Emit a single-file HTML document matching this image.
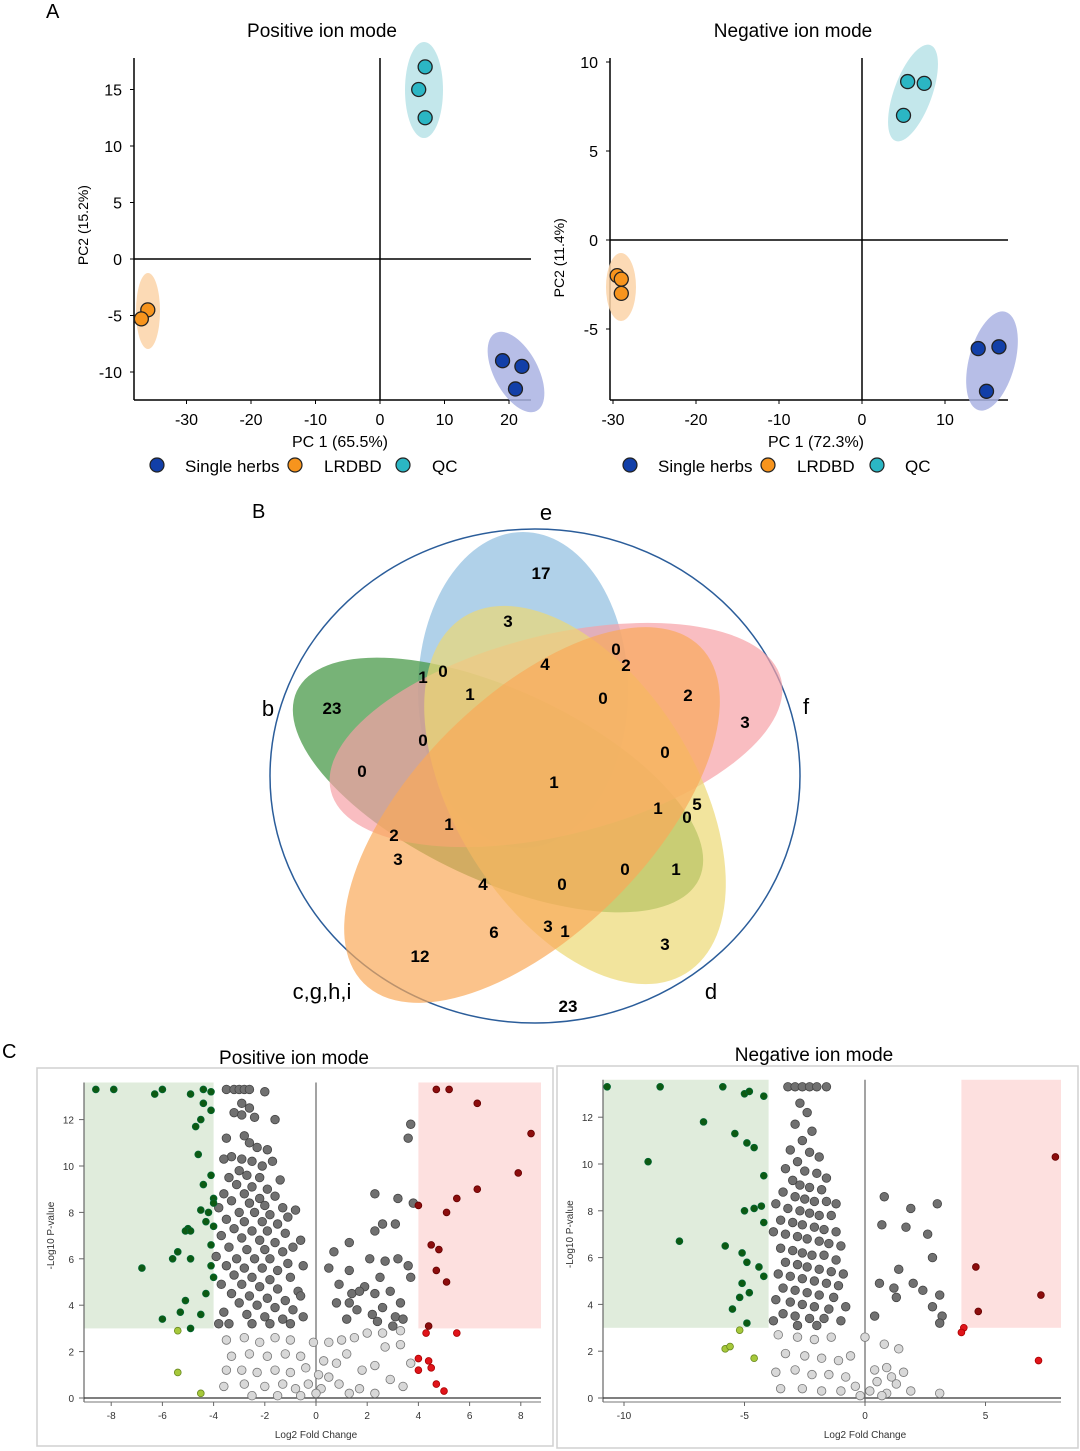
<!DOCTYPE html>
<html><head><meta charset="utf-8"><style>
body{margin:0;background:#fff;}
svg{display:block;font-family:"Liberation Sans",Arial,sans-serif;}
</style></head><body>
<svg id="fig" width="1080" height="1451" viewBox="0 0 1080 1451" xmlns="http://www.w3.org/2000/svg">
<text x="46" y="18" font-size="20">A</text>
<g id="pcaL"></g>
<g id="pcaR"></g>
<text x="252" y="518" font-size="20">B</text>
<g>
<ellipse cx="535" cy="776" rx="265" ry="247" fill="none" stroke="#2b5d9a" stroke-width="1.5"/>
<ellipse cx="523" cy="690" rx="105" ry="158" fill="#8fbde0" fill-opacity="0.7"/>
<ellipse cx="498" cy="785" rx="222" ry="95" transform="rotate(25 498 785)" fill="#4a9a4a" fill-opacity="0.75"/>
<ellipse cx="556" cy="735" rx="232" ry="100" transform="rotate(-14 556 735)" fill="#f7a1a6" fill-opacity="0.7"/>
<ellipse cx="575" cy="795" rx="210" ry="120" transform="rotate(58 575 795)" fill="#ecd873" fill-opacity="0.7"/>
<ellipse cx="532" cy="815" rx="238" ry="118" transform="rotate(-45 532 815)" fill="#f9a95a" fill-opacity="0.7"/>
</g>
<g id="vennText" font-size="17" font-weight="bold" text-anchor="middle"></g>
<g font-size="22" text-anchor="middle">
<text x="546" y="520">e</text>
<text x="268" y="716">b</text>
<text x="806" y="714">f</text>
<text x="711" y="999">d</text>
<text x="322" y="999">c,g,h,i</text>
</g>
<text x="2" y="1058" font-size="20">C</text>
<g id="volL"></g>
<g id="volR"></g>
</svg>
<script>
const pcaGroups = ["Single herbs","LRDBD","QC"];
const pcaColors = ["#123fa8","#f7941d","#2bb6c4"];
const pcaPosSingle = [[19,-9],[22,-9.5],[21,-11.5]];
const pcaPosLRDBD = [[-36,-4.5],[-37,-5.3]];
const pcaPosQC = [[7,17],[6,15],[7,12.5]];
const pcaNegSingle = [[14,-6.1],[16.5,-6],[15,-8.5]];
const pcaNegLRDBD = [[-29.5,-2],[-29,-2.2],[-29,-3]];
const pcaNegQC = [[5.5,8.9],[7.5,8.8],[5,7]];
const pcaPosXTicks = [-30,-20,-10,0,10,20];
const pcaPosYTicks = [15,10,5,0,-5,-10];
const pcaNegXTicks = [-30,-20,-10,0,10];
const pcaNegYTicks = [10,5,0,-5];

const NS="http://www.w3.org/2000/svg";
function mk(tag,attrs,parent,text){const e=document.createElementNS(NS,tag);for(const k in attrs)e.setAttribute(k,attrs[k]);if(text!==undefined)e.textContent=text;parent.appendChild(e);return e;}

function drawPCA(g,cfg){
  const sx=v=>cfg.x0+(v-0)*cfg.kx, sy=v=>cfg.y0-(v)*cfg.ky;
  mk("text",{x:cfg.titleX,y:37,"font-size":19,"text-anchor":"middle"},g,cfg.title);
  const ax=mk("line",{x1:cfg.left,y1:58,x2:cfg.left,y2:400,stroke:"#000","stroke-width":1.5},g);
  
  const bx=mk("line",{x1:cfg.left,y1:400,x2:cfg.right,y2:400,stroke:"#000","stroke-width":1.5},g);
  
  const zv=mk("line",{x1:sx(0),y1:58,x2:sx(0),y2:400,stroke:"#000","stroke-width":1.5},g);
  
  const zh=mk("line",{x1:cfg.left,y1:sy(0),x2:cfg.right,y2:sy(0),stroke:"#000","stroke-width":1.5},g);
  
  cfg.xt.forEach(t=>{mk("line",{x1:sx(t),y1:400,x2:sx(t),y2:404,stroke:"#000"},g);
    const tx=mk("text",{x:sx(t),y:425,"font-size":16,"text-anchor":"middle"},g,t);});
  cfg.yt.forEach(t=>{mk("line",{x1:cfg.left-4,y1:sy(t),x2:cfg.left,y2:sy(t),stroke:"#000"},g);
    const ty=mk("text",{x:cfg.left-12,y:sy(t)+6,"font-size":16,"text-anchor":"end"},g,t);});
  const xl=mk("text",{x:cfg.xlabX,y:447,"font-size":16,"text-anchor":"middle"},g,cfg.xlab);
  const yl=mk("text",{x:0,y:0,"font-size":14,"text-anchor":"middle",transform:`translate(${cfg.left-46},${sy(cfg.ylabV)}) rotate(-90)`},g,cfg.ylab);
  cfg.ells.forEach((e,i)=>{const el=mk("ellipse",{cx:e[0],cy:e[1],rx:e[2],ry:e[3],transform:`rotate(${e[4]} ${e[0]} ${e[1]})`,fill:["#aab3e3","#fbd3a8","#b9e3e7"][i],"fill-opacity":0.85},g);});
  cfg.sets.forEach((pts,i)=>pts.forEach(p=>{const c=mk("circle",{cx:sx(p[0]),cy:sy(p[1]),r:7,fill:pcaColors[i],stroke:"#222","stroke-width":1.3},g);
    }));
  pcaGroups.forEach((n,i)=>{const d=mk("circle",{cx:cfg.leg[i][0],cy:465,r:7,fill:pcaColors[i],stroke:"#222","stroke-width":1.2},g);
    const t=mk("text",{x:cfg.leg[i][1],y:472,"font-size":17},g,n);});
}
drawPCA(document.getElementById("pcaL"),{x0:380,kx:6.45,y0:259,ky:11.3,left:134,right:531,title:"Positive ion mode",titleX:322,
 xt:pcaPosXTicks,yt:pcaPosYTicks,xlab:"PC 1 (65.5%)",xlabX:340,ylab:"PC2 (15.2%)",ylabV:3,
 ells:[[516,372,22,44,-28],[148,311,12,38,0],[424,90,19,48,0]],sets:[pcaPosSingle,pcaPosLRDBD,pcaPosQC],leg:[[157,185],[295,324],[403,432]]});
drawPCA(document.getElementById("pcaR"),{x0:862,kx:8.3,y0:240,ky:17.8,left:610,right:1008,title:"Negative ion mode",titleX:793,
 xt:pcaNegXTicks,yt:pcaNegYTicks,xlab:"PC 1 (72.3%)",xlabX:816,ylab:"PC2 (11.4%)",ylabV:-1,
 ells:[[992,361,23,51,15],[621,287,15,34,0],[913,93,19,51,20]],sets:[pcaNegSingle,pcaNegLRDBD,pcaNegQC],leg:[[630,658],[768,797],[877,905]]});

const vennCounts=["17","3","0","2","4","1","0","1","2","23","1","0","3","0","0","0","1","0","5","2","1","3","0","1","4","0","6","3","1","12","3","23"];
const vennPos=[[541,579],[508,627],[616,655],[626,671],[545,670],[423,683],[443,677],[470,700],[688,701],[332,714],[554,788],[603,704],[745,728],[665,758],[423,746],[362,777],[658,814],[687,823],[697,810],[394,841],[449,830],[398,865],[625,875],[676,875],[483,890],[562,890],[494,938],[548,932],[565,937],[420,962],[665,950],[568,1012]];
const vt=document.getElementById("vennText");
vennCounts.forEach((c,i)=>{const t=mk("text",{x:vennPos[i][0],y:vennPos[i][1]},vt,c);});

const volPosGray=[[-3.5,13.3],[-3.2,13.3],[-3,13.3],[-2.8,13.3],[-2.6,13.3],[-2,13.2],[-3.2,12.3],[-2.9,12.2],[-2.4,12.1],[-2.9,12.7],[-2.6,12.5],[-1.6,12],[-3.5,11.2],[-2.8,11.3],[-2.6,11],[-2.3,10.8],[-1.9,10.7],[-3.3,10.4],[-3.6,10.3],[-2.9,10.3],[-2.5,10.2],[-1.7,10.2],[-2.1,10],[-3,9.8],[-3.4,9.5],[-2.7,9.6],[-2.2,9.5],[-1.4,9.4],[-3.1,9.2],[-2.5,9.1],[-1.9,9],[-3.6,8.8],[-2.8,8.8],[-2.2,8.6],[-1.6,8.7],[-3.3,8.5],[-2.6,8.4],[-2,8.3],[-1.3,8.2],[-0.8,8.1],[-3.8,8.2],[-3,8],[-2.4,8],[-1.8,7.9],[-1.1,7.8],[-3.5,7.7],[-2.8,7.6],[-2.1,7.6],[-1.5,7.5],[-3.2,7.3],[-2.5,7.2],[-1.9,7.2],[-1.2,7.1],[-0.6,6.8],[-3.7,7],[-2.9,6.9],[-2.2,6.8],[-1.6,6.7],[-3.4,6.5],[-2.7,6.4],[-2,6.4],[-1.3,6.3],[-0.9,6.5],[-3.9,6.1],[-3.1,6],[-2.4,6],[-1.8,6],[-1.1,5.8],[-0.5,5.7],[-3.5,5.7],[-2.8,5.6],[-2.1,5.6],[-1.5,5.5],[-3.2,5.3],[-2.5,5.2],[-1.8,5.1],[-1,5.2],[-3.7,4.9],[-2.9,4.9],[-2.2,4.8],[-1.5,4.7],[-0.7,4.6],[-3.3,4.5],[-2.6,4.4],[-1.9,4.3],[-1.2,4.2],[-0.6,4.4],[-3,4.1],[-2.3,4],[-1.6,3.9],[-0.9,3.8],[-3.6,3.7],[-2.7,3.6],[-2,3.5],[-1.3,3.4],[-0.5,3.5],[-3.4,3.2],[-2.5,3.2],[-1.8,3.2],[-1,3.2],[-3.8,3.2],
[0.7,6.3],[1.3,6.7],[2.3,8.8],[3.2,8.6],[3.8,8.4],[2.6,7.5],[3.1,7.5],[2.3,7.2],[2.1,6],[2.7,5.9],[3.2,6],[3.6,5.7],[3.7,5.2],[1.3,5.5],[1.9,4.8],[2.5,5.2],[0.5,5.6],[0.9,4.9],[1.4,4.5],[1.7,4.6],[2.3,4.5],[2.9,4.6],[3.3,4.1],[0.8,4.1],[1.3,4.1],[1.6,3.8],[2.2,3.6],[2.6,3.9],[3.1,3.5],[3.4,3.4],[1.2,3.4],[2.4,3.3],[3,3.1],[3.7,11.8],[3.6,11.2],
[-3.5,2.5],[-2.8,2.6],[-2.2,2.4],[-1.6,2.6],[-1,2.5],[-3.3,1.8],[-2.6,1.9],[-1.9,1.8],[-1.2,1.9],[-0.6,1.8],[-3.5,1.2],[-2.9,1.2],[-2.3,1.1],[-1.6,1.2],[-1,1.1],[-0.4,1.3],[-3.6,0.5],[-2.8,0.6],[-2,0.5],[-1.3,0.6],[-0.8,0.4],[-0.3,0.6],[-2.5,0.1],[-1.5,0.1],[-0.6,0.1],[0.2,0.4],[0.5,0.9],[0.9,0.6],[1.3,0.2],[0.3,1.6],[0.8,1.5],[1.2,1.9],[0.5,2.4],[1,2.5],[1.5,2.6],[2,2.8],[2.6,2.8],[3.3,2.9],[1.8,1.2],[2.3,1.4],[2.7,2.2],[3.3,2.3],[1.7,0.4],[2.3,0.2],[3.4,0.5],[3.7,1.5],[2.9,0.8],[0,0.2],[0.1,1],[-0.1,2.4]];
const volPosDown=[[-8.6,13.3],[-7.9,13.3],[-6.3,13.1],[-6,13.3],[-4.9,13.1],[-4.4,13.3],[-4.1,13.2],[-4.4,12.7],[-4.1,12.4],[-4.5,12],[-4.7,11.7],[-4.6,10.5],[-4.1,9.6],[-4.4,9.2],[-4,8.6],[-4,8.4],[-4.5,8.1],[-4.2,8],[-4.3,7.6],[-4,7.4],[-5,7.3],[-5.1,7.2],[-4.9,7.2],[-4.1,6.6],[-5.4,6.3],[-5.6,6],[-4.9,6],[-6.8,5.6],[-4.1,5.7],[-4,5.2],[-5.1,4.2],[-4.3,4.5],[-6,3.4],[-5.3,3.7],[-4.5,3.6],[-4.9,3]];
const volPosDownNS=[[-5.4,2.9],[-5.4,1.1],[-4.5,0.2]];
const volPosUp=[[4.7,13.3],[5.2,13.3],[6.3,12.7],[8.4,11.4],[7.9,9.7],[6.3,9],[5.5,8.6],[4,8.3],[5.1,8],[4.5,6.6],[4.8,6.4],[4.7,5.5],[5.1,5],[4.4,3.1]];
const volPosUpNS=[[4.3,2.8],[5.5,2.8],[4,1.7],[4.4,1.6],[4,1.2],[4.5,1.3],[4.7,0.6],[5,0.3]];
const volNegGray=[[-3.2,13.3],[-2.9,13.3],[-2.6,13.3],[-2.3,13.3],[-2,13.3],[-1.6,13.3],[-2.7,12.6],[-2.4,12.2],[-2.9,11.7],[-2.2,11.4],[-2.6,11],[-3.1,10.6],[-2.3,10.5],[-1.9,10.3],[-2.8,10.1],[-3.3,9.8],[-2.5,9.7],[-2,9.6],[-1.6,9.4],[-3,9.3],[-2.7,9.1],[-2.3,9],[-1.8,8.9],[-3.4,8.8],[-2.9,8.6],[-2.5,8.5],[-2.1,8.4],[-1.6,8.4],[-1.2,8.3],[-3.7,8.3],[-3.2,8.1],[-2.7,8],[-2.3,7.9],[-1.9,7.8],[-1.4,7.8],[-3.5,7.6],[-3,7.5],[-2.6,7.4],[-2.1,7.3],[-1.7,7.2],[-1.2,7.1],[-3.8,7.1],[-3.3,7],[-2.8,6.9],[-2.4,6.8],[-1.9,6.7],[-1.5,6.6],[-1,6.5],[-3.5,6.4],[-3,6.3],[-2.6,6.2],[-2.2,6.1],[-1.7,6.1],[-1.2,5.9],[-3.3,5.8],[-2.8,5.7],[-2.4,5.6],[-1.9,5.5],[-1.4,5.4],[-0.9,5.3],[-3.6,5.3],[-3.1,5.2],[-2.6,5.1],[-2.1,5],[-1.6,4.9],[-1.1,4.8],[-3.4,4.7],[-2.9,4.6],[-2.4,4.5],[-1.9,4.4],[-1.3,4.3],[-3.7,4.2],[-3.1,4.1],[-2.6,4],[-2.1,3.9],[-1.5,3.8],[-0.8,3.9],[-3.4,3.6],[-2.9,3.5],[-2.3,3.4],[-1.7,3.4],[-1,3.3],[-3.8,3.3],[-2.8,3.1],[-2,3.1],
[0.8,8.6],[1.9,8.1],[3,8.3],[0.7,7.4],[1.7,7.3],[2.6,7],[2.8,6],[1.4,5.5],[0.6,4.9],[1.2,4.7],[2,4.9],[2.4,4.6],[3.1,4.4],[1.3,4.3],[2.8,3.9],[3.2,3.5],[0.4,3.5],[3.1,3.2],
[-3.6,2.7],[-2.8,2.6],[-2.1,2.5],[-1.4,2.6],[-3.3,1.9],[-2.5,1.8],[-1.8,1.7],[-1.1,1.6],[-3.7,1.1],[-2.9,1.2],[-2.2,1],[-1.5,1],[-0.8,0.9],[-3.5,0.4],[-2.6,0.4],[-1.8,0.3],[-1,0.3],[-0.4,0.5],[-0.2,0.1],[0.2,0.3],[0.5,0.7],[0.9,0.2],[0.4,1.2],[0.9,1.3],[1.3,0.6],[1.6,1.1],[1.9,0.3],[0.8,2.3],[1.4,2.1],[0.7,0.1],[1.1,0.9],[3.1,0.2],[-0.6,1.8],[0,2.6]];
const volNegDown=[[-10.7,13.3],[-8.5,13.3],[-5.9,13.3],[-5,13],[-4.8,13.1],[-4.2,12.9],[-6.7,11.8],[-5.4,11.3],[-9,10.1],[-4.9,10.9],[-4.6,10.7],[-4.2,9.5],[-4.3,8.2],[-5,8],[-4.6,8.1],[-4.2,7.5],[-5.8,6.5],[-5.1,6.2],[-4.9,5.8],[-7.7,6.7],[-4.2,5.2],[-5.1,4.9],[-4.4,5.6],[-5.2,4.3],[-4.8,4.5],[-5.5,3.8],[-4.9,3.2]];
const volNegDownNS=[[-5.2,2.9],[-5.8,2.1],[-5.6,2.2],[-4.6,1.7]];
const volNegUp=[[7.9,10.3],[4.6,5.6],[7.3,4.4],[4.7,3.7]];
const volNegUpNS=[[4.1,3],[4,2.8],[7.2,1.6]];
const volPosXTicks=[-8,-6,-4,-2,0,2,4,6,8];
const volNegXTicks=[-10,-5,0,5];
const volYTicks=[0,2,4,6,8,10,12];

function drawVol(g,c){
  const sx=v=>c.x0+v*c.kx, sy=v=>c.y0-v*c.ky;
  const fr=mk("rect",{x:c.fx,y:c.fy,width:c.fw,height:c.fh,fill:"none",stroke:"#d0d0d0","stroke-width":1.5},g);
  const tt=mk("text",{x:c.titleX,y:c.titleY,"font-size":19,"text-anchor":"middle"},g,c.title);
  const gr=mk("rect",{x:c.left,y:sy(13.6),width:sx(-4)-c.left,height:sy(3)-sy(13.6),fill:"#e0ecdc"},g);
  const rr=mk("rect",{x:sx(4),y:sy(13.6),width:c.right-sx(4),height:sy(3)-sy(13.6),fill:"#fde0df"},g);
  mk("line",{x1:c.left,y1:sy(13.6),x2:c.left,y2:sy(0)+4,stroke:"#666","stroke-width":1.2},g);
  mk("line",{x1:c.left,y1:sy(0),x2:c.right,y2:sy(0),stroke:"#333","stroke-width":1.2},g);
  mk("line",{x1:c.left,y1:sy(0)+4,x2:c.right,y2:sy(0)+4,stroke:"#777","stroke-width":1},g);
  mk("line",{x1:sx(0),y1:sy(13.6),x2:sx(0),y2:sy(0)+4,stroke:"#666","stroke-width":1.2},g);
  c.xt.forEach(t=>{mk("line",{x1:sx(t),y1:sy(0)+4,x2:sx(t),y2:sy(0)+8,stroke:"#666"},g);
    const e=mk("text",{x:sx(t),y:sy(0)+21,"font-size":10,"text-anchor":"middle",fill:"#333"},g,t);});
  volYTicks.forEach(t=>{mk("line",{x1:c.left-5,y1:sy(t),x2:c.left,y2:sy(t),stroke:"#666"},g);
    const e=mk("text",{x:c.left-10,y:sy(t)+4,"font-size":10,"text-anchor":"end",fill:"#333"},g,t);});
  mk("text",{x:sx(0),y:1438,"font-size":10,"text-anchor":"middle",fill:"#333"},g,"Log2 Fold Change");
  mk("text",{x:0,y:0,"font-size":10,"text-anchor":"middle",fill:"#333",transform:`translate(${c.left-30},${sy(7)}) rotate(-90)`},g,"-Log10 P-value");
  const dot=(p,fill,stroke,name,r)=>{const e=mk("circle",{cx:sx(p[0]),cy:sy(p[1]),r:r,fill:fill,stroke:stroke,"stroke-width":0.8},g);
    };
  c.gray.forEach(p=>dot(p,p[1]>=3?"#707070":"#d8d8d8",p[1]>=3?"#444":"#777","feature-point",4.3));
  c.down.forEach(p=>dot(p,"#0d5a12","#063","down-point",3.4));
  c.downNS.forEach(p=>dot(p,"#a6c83a","#6a8a20","down-ns-point",3.4));
  c.up.forEach(p=>dot(p,"#8c0d0d","#600","up-point",3.4));
  c.upNS.forEach(p=>dot(p,"#e0141a","#a00","up-ns-point",3.4));
}
drawVol(document.getElementById("volL"),{x0:316,kx:25.6,y0:1398,ky:23.2,left:84,right:541,fx:37,fy:1068,fw:516,fh:378,
 title:"Positive ion mode",titleX:294,titleY:1064,xt:volPosXTicks,gray:volPosGray,down:volPosDown,downNS:volPosDownNS,up:volPosUp,upNS:volPosUpNS});
drawVol(document.getElementById("volR"),{x0:865,kx:24.1,y0:1398,ky:23.4,left:603,right:1061,fx:557,fy:1066,fw:521,fh:382,
 title:"Negative ion mode",titleX:814,titleY:1061,xt:volNegXTicks,gray:volNegGray,down:volNegDown,downNS:volNegDownNS,up:volNegUp,upNS:volNegUpNS});
</script>
</body></html>
